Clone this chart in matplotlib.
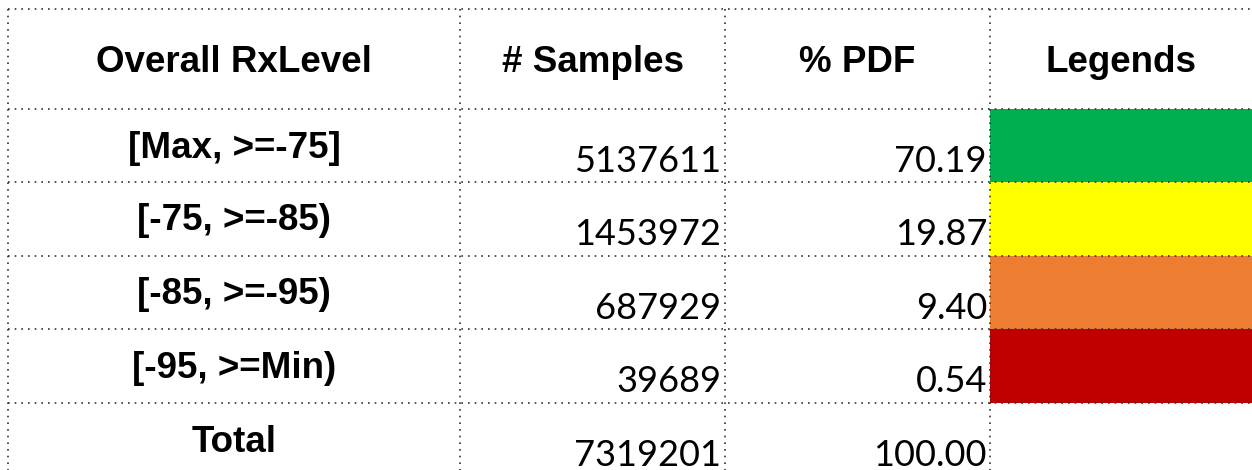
import matplotlib
matplotlib.use("Agg")
import matplotlib.pyplot as plt
from matplotlib.patches import Rectangle

# table content
headers = ["Overall RxLevel", "# Samples", "% PDF", "Legends"]
levels = ["[Max, >=-75]", "[-75, >=-85)", "[-85, >=-95)", "[-95, >=Min)", "Total"]
samples = [5137611, 1453972, 687929, 39689, 7319201]
pdf = [70.19, 19.87, 9.40, 0.54, 100.00]
legend_colors = ["#00B050", "#FFFF00", "#ED7D31", "#C00000", None]

# layout in pixels
W, H = 1252, 470
col_edges = [8, 460, 725, 990, 1252]
row_edges = [9, 109, 182, 256, 329, 403, 476]

fig = plt.figure(figsize=(W / 100, H / 100), dpi=100)
ax = fig.add_axes([0, 0, 1, 1])
ax.set_xlim(0, W)
ax.set_ylim(H, 0)
ax.axis("off")

# legend colour cells
for i, c in enumerate(legend_colors):
    if c is None:
        continue
    ax.add_patch(Rectangle((col_edges[3], row_edges[i + 1]), col_edges[4] - col_edges[3],
                           row_edges[i + 2] - row_edges[i + 1], color=c, lw=0, zorder=1))

# dotted grid
dot = dict(color="#333333", lw=1.2, linestyle=(0, (1, 3)), zorder=2)
for y in row_edges[:-1]:
    ax.plot([col_edges[0], W], [y, y], **dot)
for x in col_edges[:-1]:
    ax.plot([x, x], [row_edges[0], H], **dot)

bold = dict(family="Liberation Sans", weight="bold", fontsize=26.5, color="black")
num = dict(family="Lato", fontsize=26, color="black")

# header row
for j, h in enumerate(headers):
    xc = (col_edges[j] + col_edges[j + 1]) / 2
    ax.text(xc, 63, h, ha="center", va="center", **bold)

# body rows
for i, lab in enumerate(levels):
    top = row_edges[i + 1]
    xc = (col_edges[0] + col_edges[1]) / 2
    ax.text(xc, top + 39, lab, ha="center", va="center", **bold)
    ax.text(col_edges[2] - 4, top + 63, f"{samples[i]}", ha="right", va="baseline", **num)
    ax.text(col_edges[3] - 3, top + 63, f"{pdf[i]:.2f}", ha="right", va="baseline", **num)

fig.savefig("out.png", dpi=100)
